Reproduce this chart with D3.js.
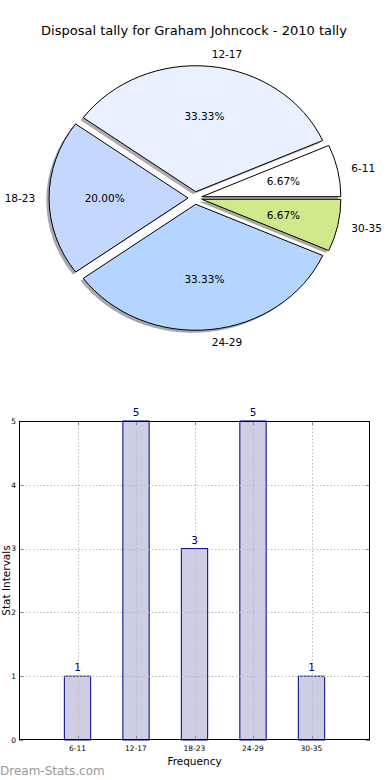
<!DOCTYPE html>
<html>
<head>
<meta charset="utf-8">
<script src="https://cdn.jsdelivr.net/npm/d3@7"></script>
<style>
  html, body { margin: 0; padding: 0; background: #fff; }
  svg { display: block; font-family: "DejaVu Sans", sans-serif; }
</style>
</head>
<body>
<svg id="chart" width="390" height="780"></svg>
<script>
// ---- data ----
const categories = ["6-11", "12-17", "18-23", "24-29", "30-35"];
const counts = [1, 5, 3, 5, 1];
const yTicks = [0, 1, 2, 3, 4, 5];
const titleText = "Disposal tally for Graham Johncock - 2010 tally";
const xLabel = "Frequency";
const yLabel = "Stat Intervals";
const watermark = "Dream-Stats.com";

// ---- styles ----
const pieColors = ["#ffffff", "#e9f0ff", "#c4d7ff", "#b3d5ff", "#cfea8b"];

const svg = d3.select("#chart");
svg.append("rect").attr("width", 390).attr("height", 780).attr("fill", "#fff");

// ---- title ----
svg.append("text").attr("x", 194).attr("y", 35).attr("text-anchor", "middle")
  .attr("font-size", 13).attr("fill", "#000").text(titleText);

// ---- pie ----
const cx = 195, cy = 198, rx = 139, ry = 126;
const explode = 0.05, shadowOff = 0.02;
const pie = d3.pie().sort(null).value(d => d)
  .startAngle(Math.PI / 2).endAngle(Math.PI / 2 - 2 * Math.PI);
const arcs = pie(counts);
const total = d3.sum(counts);
const arc = d3.arc().innerRadius(0).outerRadius(rx);

function mid(a) { return (a.startAngle + a.endAngle) / 2; }

const pieG = svg.append("g");
// shadows first (behind all wedges)
arcs.forEach((a, i) => {
  const m = mid(a);
  const dx = explode * rx * Math.sin(m), dy = -explode * ry * Math.cos(m);
  const c = d3.rgb(pieColors[i]);
  const sc = d3.rgb(c.r * 0.3, c.g * 0.3, c.b * 0.3);
  pieG.append("path")
    .attr("transform", `translate(${cx + dx - shadowOff * rx},${cy + dy + shadowOff * ry}) scale(1,${ry / rx})`)
    .attr("d", arc(a))
    .attr("fill", sc).attr("opacity", 0.45).attr("stroke", "none");
});
arcs.forEach((a, i) => {
  const m = mid(a);
  const dx = explode * rx * Math.sin(m), dy = -explode * ry * Math.cos(m);
  pieG.append("path")
    .attr("transform", `translate(${cx + dx},${cy + dy}) scale(1,${ry / rx})`)
    .attr("d", arc(a))
    .attr("fill", pieColors[i]).attr("stroke", "#000").attr("stroke-width", 1)
    .attr("vector-effect", "non-scaling-stroke").attr("stroke-linejoin", "miter");
});
arcs.forEach((a, i) => {
  const m = mid(a);
  const s = Math.sin(m), c = Math.cos(m);
  const ox = cx + explode * rx * s, oy = cy - explode * ry * c;
  // category label
  const lx = ox + 1.1 * rx * s, ly = oy - 1.1 * ry * c;
  svg.append("text").attr("x", lx).attr("y", ly).attr("dy", "0.36em")
    .attr("text-anchor", s > 0 ? "start" : "end")
    .attr("font-size", 10.5).attr("fill", "#000").text(categories[i]);
  // percent label
  const px = ox + 0.6 * rx * s, py = oy - 0.6 * ry * c;
  svg.append("text").attr("x", px).attr("y", py).attr("dy", "0.36em")
    .attr("text-anchor", "middle")
    .attr("font-size", 10.5).attr("fill", "#000")
    .text((100 * counts[i] / total).toFixed(2) + "%");
});

// ---- bar chart ----
const L = 19, R = 370, T = 421, B = 740;
const x = d3.scaleLinear().domain([0, categories.length + 1]).range([L, R]);
const y = d3.scaleLinear().domain([0, 5]).range([B, T]);
const barW = 0.45;
const bg = svg.append("g");

// bars
bg.selectAll("rect.bar").data(counts).enter().append("rect")
  .attr("class", "bar")
  .attr("x", (d, i) => x(i + 1 - barW / 2))
  .attr("y", d => y(d))
  .attr("width", x(barW) - x(0))
  .attr("height", d => y(0) - y(d))
  .attr("fill", "#cdcde3").attr("stroke", "#000080").attr("stroke-width", 1);

// grid (on top of bars)
const gridC = "#bdbdbd";
bg.selectAll("line.vg").data(categories).enter().append("line")
  .attr("x1", (d, i) => Math.round(x(i + 1)) + 0.5).attr("x2", (d, i) => Math.round(x(i + 1)) + 0.5)
  .attr("y1", T).attr("y2", B)
  .attr("stroke", gridC).attr("stroke-width", 1).attr("stroke-dasharray", "1.5,2");
bg.selectAll("line.hg").data(yTicks.slice(1, -1)).enter().append("line")
  .attr("y1", d => Math.round(y(d)) + 0.5).attr("y2", d => Math.round(y(d)) + 0.5)
  .attr("x1", L).attr("x2", R)
  .attr("stroke", gridC).attr("stroke-width", 1).attr("stroke-dasharray", "1.5,2");

// ticks (inward, all sides)
const tickC = "#8a8a8a";
categories.forEach((c, i) => {
  const xx = Math.round(x(i + 1)) + 0.5;
  bg.append("line").attr("x1", xx).attr("x2", xx).attr("y1", B).attr("y2", B - 4).attr("stroke", tickC);
  bg.append("line").attr("x1", xx).attr("x2", xx).attr("y1", T).attr("y2", T + 4).attr("stroke", tickC);
});
yTicks.forEach(t => {
  const yy = Math.round(y(t)) + 0.5;
  bg.append("line").attr("x1", L).attr("x2", L + 4).attr("y1", yy).attr("y2", yy).attr("stroke", tickC);
  bg.append("line").attr("x1", R).attr("x2", R - 4).attr("y1", yy).attr("y2", yy).attr("stroke", tickC);
});

// frame
bg.append("rect").attr("x", L + 0.5).attr("y", T + 0.5)
  .attr("width", R - L - 1).attr("height", B - T - 1)
  .attr("fill", "none").attr("stroke", "#000").attr("stroke-width", 1);

// tick labels
bg.selectAll("text.xt").data(categories).enter().append("text")
  .attr("x", (d, i) => x(i + 1)).attr("y", 751)
  .attr("text-anchor", "middle").attr("font-size", 7.5).attr("fill", "#000").text(d => d);
bg.selectAll("text.yt").data(yTicks).enter().append("text")
  .attr("x", 16).attr("y", d => y(d)).attr("dy", "0.36em")
  .attr("text-anchor", "end").attr("font-size", 7.5).attr("fill", "#000").text(d => d);

// value labels
bg.selectAll("text.val").data(counts).enter().append("text")
  .attr("x", (d, i) => x(i + 1)).attr("y", d => y(d) - 5)
  .attr("text-anchor", "middle").attr("font-size", 10.5).attr("fill", "#000080").text(d => d);

// axis labels
svg.append("text").attr("x", (L + R) / 2).attr("y", 765).attr("text-anchor", "middle")
  .attr("font-size", 10.5).attr("fill", "#000").text(xLabel);
svg.append("text").attr("transform", `translate(9.5,${(T + B) / 2}) rotate(-90)`)
  .attr("text-anchor", "middle").attr("font-size", 10.5).attr("fill", "#000").text(yLabel);

// watermark
svg.append("text").attr("x", 0).attr("y", 775).attr("font-size", 12)
  .attr("fill", "#999").text(watermark);
</script>
</body>
</html>
